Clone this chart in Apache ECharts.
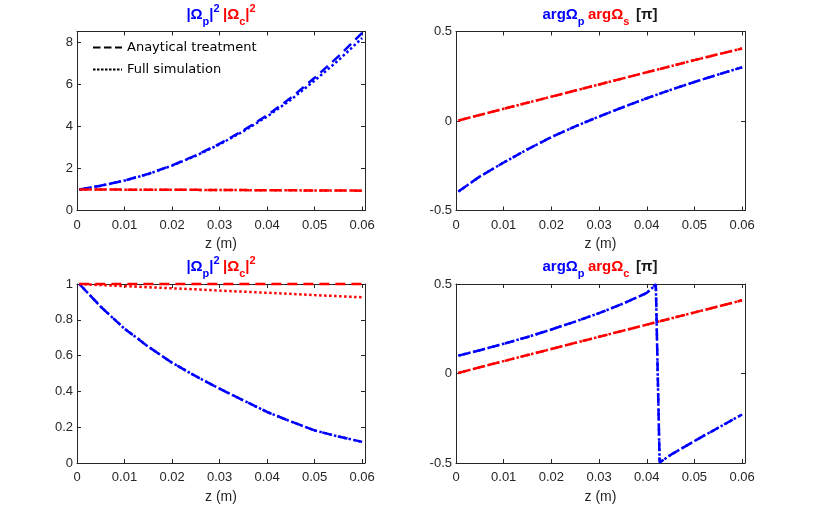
<!DOCTYPE html>
<html>
<head>
<meta charset="utf-8">
<script src="https://cdn.jsdelivr.net/npm/echarts@6/dist/echarts.min.js"></script>
<style>
  html, body { margin: 0; padding: 0; background: #fff; }
  #main { width: 830px; height: 506px; }
</style>
</head>
<body>
<div id="main"></div>
<script>
// sample points along z (m)
var zPts = [0.0005, 0.005, 0.01, 0.015, 0.02, 0.025, 0.03, 0.035, 0.04, 0.045, 0.05, 0.055, 0.06];
// bottom right blue wraps round at ~0.042
var zPtsWrap = [0.0005, 0.005, 0.01, 0.015, 0.02, 0.025, 0.03, 0.035, 0.04, 0.0419, 0.0427, 0.045, 0.05, 0.055, 0.06];

// tick labels
var xTickLabels = ['0', '0.01', '0.02', '0.03', '0.04', '0.05', '0.06'];
var yTickLabelsTL = ['0', '2', '4', '6', '8'];
var yTickLabelsBL = ['0', '0.2', '0.4', '0.6', '0.8', '1'];
var yTickLabelsArg = ['-0.5', '0', '0.5'];

// top left: |Op|^2 and |Oc|^2
var tlBlueAna = [1.0, 1.18, 1.42, 1.74, 2.14, 2.62, 3.17, 3.8, 4.52, 5.35, 6.3, 7.32, 8.43];
var tlBlueSim = [1.0, 1.18, 1.42, 1.73, 2.13, 2.6, 3.14, 3.76, 4.46, 5.26, 6.17, 7.13, 8.19];
var tlRedAna = [1.0, 1.0, 0.99, 0.99, 0.98, 0.98, 0.97, 0.97, 0.96, 0.96, 0.95, 0.95, 0.94];
var tlRedSim = [1.0, 1.0, 0.99, 0.99, 0.98, 0.98, 0.97, 0.97, 0.96, 0.96, 0.95, 0.95, 0.94];

// top right: arg Op, arg Os [pi]
var trBlueAna = [-0.394, -0.31, -0.232, -0.158, -0.09, -0.03, 0.025, 0.077, 0.127, 0.174, 0.218, 0.26, 0.30];
var trBlueSim = [-0.394, -0.31, -0.232, -0.158, -0.09, -0.03, 0.025, 0.077, 0.127, 0.174, 0.218, 0.26, 0.30];
var trRedAna = [0.003, 0.034, 0.068, 0.102, 0.136, 0.17, 0.204, 0.238, 0.272, 0.306, 0.34, 0.373, 0.405];
var trRedSim = [0.003, 0.034, 0.068, 0.102, 0.136, 0.17, 0.204, 0.238, 0.272, 0.306, 0.34, 0.373, 0.405];

// bottom left: |Op|^2 and |Oc|^2
var blBlueAna = [1.0, 0.873, 0.75, 0.65, 0.56, 0.485, 0.415, 0.35, 0.285, 0.232, 0.182, 0.148, 0.118];
var blBlueSim = [1.0, 0.873, 0.75, 0.65, 0.56, 0.485, 0.415, 0.35, 0.285, 0.232, 0.182, 0.148, 0.118];
var blRedAna = [1.0, 1.0, 1.0, 1.0, 1.0, 1.0, 1.0, 1.0, 1.0, 1.0, 1.0, 1.0, 1.0];
var blRedSim = [1.0, 0.994, 0.988, 0.982, 0.976, 0.97, 0.963, 0.957, 0.951, 0.945, 0.938, 0.932, 0.926];

// bottom right: arg Op, arg Oc [pi]
var brBlueAna = [0.1, 0.13, 0.166, 0.204, 0.246, 0.29, 0.337, 0.39, 0.45, 0.497, -0.497, -0.455, -0.377, -0.303, -0.229];
var brBlueSim = [0.1, 0.13, 0.166, 0.204, 0.246, 0.29, 0.337, 0.39, 0.45, 0.497, -0.497, -0.455, -0.377, -0.303, -0.229];
var brRedAna = [0.003, 0.035, 0.069, 0.103, 0.137, 0.171, 0.205, 0.239, 0.273, 0.307, 0.341, 0.375, 0.409];
var brRedSim = [0.003, 0.035, 0.069, 0.103, 0.137, 0.171, 0.205, 0.239, 0.273, 0.307, 0.341, 0.375, 0.409];

var BLUE = '#0000ff';
var RED = '#ff0000';
var AXIS = '#262626';
var TICK_FONT = '"Liberation Sans", Arial, sans-serif';

function pairs(xs, ys) {
  return xs.map(function (x, i) { return [x, ys[i]]; });
}

// label only on the ticks we have labels for
function fmt(labels, start, step) {
  return function (v) {
    var k = (v - start) / step;
    var r = Math.round(k);
    if (Math.abs(k - r) > 1e-6 || labels[r] === undefined) return '';
    return labels[r];
  };
}

var grids = [
  { left: 77, top: 31.5, width: 288, height: 179 },
  { left: 456, top: 31.5, width: 289, height: 179 },
  { left: 77, top: 284, width: 288, height: 179 },
  { left: 456, top: 284, width: 289, height: 179 }
];

var yRanges = [
  { min: 0, max: 8.5, interval: 2, labels: yTickLabelsTL },
  { min: -0.5, max: 0.5, interval: 0.5, labels: yTickLabelsArg },
  { min: 0, max: 1, interval: 0.2, labels: yTickLabelsBL },
  { min: -0.5, max: 0.5, interval: 0.5, labels: yTickLabelsArg }
];

var xAxes = [], yAxes = [];
grids.forEach(function (g, i) {
  ['bottom', 'top'].forEach(function (pos) {
    xAxes.push({
      type: 'value', gridIndex: i, position: pos,
      min: 0, max: 0.0606, interval: 0.01,
      name: pos == 'bottom' ? 'z (m)' : '',
      nameLocation: 'middle', nameGap: 27,
      nameTextStyle: { fontSize: 14, color: AXIS, fontFamily: TICK_FONT },
      axisLine: { show: true, onZero: false, lineStyle: { color: AXIS, width: 1 } },
      axisTick: { show: true, inside: true, length: 4, lineStyle: { color: AXIS } },
      axisLabel: {
        show: pos == 'bottom', margin: 8, fontSize: 13, color: AXIS, fontFamily: TICK_FONT,
        formatter: fmt(xTickLabels, 0, 0.01)
      },
      splitLine: { show: false }
    });
  });
  var yr = yRanges[i];
  ['left', 'right'].forEach(function (pos) {
    yAxes.push({
      type: 'value', gridIndex: i, position: pos,
      min: yr.min, max: yr.max, interval: yr.interval,
      axisLine: { show: true, onZero: false, lineStyle: { color: AXIS, width: 1 } },
      axisTick: { show: true, inside: true, length: 4, lineStyle: { color: AXIS } },
      axisLabel: {
        show: pos == 'left', margin: 4, fontSize: 13, color: AXIS, fontFamily: TICK_FONT,
        formatter: fmt(yr.labels, yr.min, yr.interval)
      },
      splitLine: { show: false }
    });
  });
});

var DASH = [10, 6];
var DOT = [2.5, 2.5];

function curve(i, xs, ys, color, dash) {
  return {
    type: 'line', xAxisIndex: 2 * i, yAxisIndex: 2 * i,
    data: pairs(xs, ys), symbol: 'none', silent: true, clip: false,
    lineStyle: { color: color, width: 2.5, type: dash },
    z: dash == DASH ? 3 : 2
  };
}

var series = [
  // legend entries only
  { name: 'Anaytical treatment', type: 'line', xAxisIndex: 0, yAxisIndex: 0, data: [], symbol: 'none',
    itemStyle: { color: '#000' }, lineStyle: { color: '#000', width: 2.5, type: [7.5, 3.5] } },
  { name: 'Full simulation', type: 'line', xAxisIndex: 0, yAxisIndex: 0, data: [], symbol: 'none',
    itemStyle: { color: '#000' }, lineStyle: { color: '#000', width: 2.5, type: [2.5, 1.5] } },

  curve(0, zPts, tlBlueSim, BLUE, DOT),
  curve(0, zPts, tlBlueAna, BLUE, DASH),
  curve(0, zPts, tlRedSim, RED, DOT),
  curve(0, zPts, tlRedAna, RED, DASH),

  curve(1, zPts, trBlueSim, BLUE, DOT),
  curve(1, zPts, trBlueAna, BLUE, DASH),
  curve(1, zPts, trRedSim, RED, DOT),
  curve(1, zPts, trRedAna, RED, DASH),

  curve(2, zPts, blBlueSim, BLUE, DOT),
  curve(2, zPts, blBlueAna, BLUE, DASH),
  curve(2, zPts, blRedSim, RED, DOT),
  curve(2, zPts, blRedAna, RED, DASH),

  curve(3, zPtsWrap, brBlueSim, BLUE, DOT),
  curve(3, zPtsWrap, brBlueAna, BLUE, DASH),
  curve(3, zPts, brRedSim, RED, DOT),
  curve(3, zPts, brRedAna, RED, DASH)
];

var TITLE_FONT = '"Liberation Sans", Arial, sans-serif';
function richSet() {
  var base = { fontFamily: TITLE_FONT, fontWeight: 'bold' };
  function s(extra) { return Object.assign({}, base, extra); }
  return {
    b: s({ fill: BLUE, fontSize: 15, lineHeight: 24 }),
    bs: s({ fill: BLUE, fontSize: 11, verticalAlign: 'bottom' }),
    bp: s({ fill: BLUE, fontSize: 11, verticalAlign: 'top' }),
    r: s({ fill: RED, fontSize: 15, lineHeight: 24 }),
    rs: s({ fill: RED, fontSize: 11, verticalAlign: 'bottom' }),
    rp: s({ fill: RED, fontSize: 11, verticalAlign: 'top' }),
    k: s({ fill: '#1a1a1a', fontSize: 15, lineHeight: 24 })
  };
}
function titleText(x, y, text) {
  return {
    type: 'text', x: x, y: y, silent: true,
    style: { text: text, align: 'center', verticalAlign: 'middle', rich: richSet() }
  };
}

var option = {
  animation: false,
  backgroundColor: '#fff',
  grid: grids,
  xAxis: xAxes,
  yAxis: yAxes,
  legend: {
    data: ['Anaytical treatment', 'Full simulation'],
    orient: 'vertical', left: 92, top: 41, padding: 0,
    itemWidth: 29, itemHeight: 14, itemGap: 9,
    selectedMode: false,
    itemStyle: { opacity: 0 },
    textStyle: { fontSize: 13, color: '#000', fontFamily: '"DejaVu Sans", sans-serif' }
  },
  graphic: [
    titleText(221, 15, '{b||Ω}{bs|p}{b||}{bp|2} {r||Ω}{rs|c}{r||}{rp|2}'),
    titleText(600, 15, '{b|argΩ}{bs|p} {r|argΩ}{rs|s}  {k|[π]}'),
    titleText(221, 267, '{b||Ω}{bs|p}{b||}{bp|2} {r||Ω}{rs|c}{r||}{rp|2}'),
    titleText(600, 267, '{b|argΩ}{bs|p} {r|argΩ}{rs|c}  {k|[π]}')
  ],
  series: series
};

var chart = echarts.init(document.getElementById('main'), null, { renderer: 'canvas' });
chart.setOption(option);
</script>
</body>
</html>
